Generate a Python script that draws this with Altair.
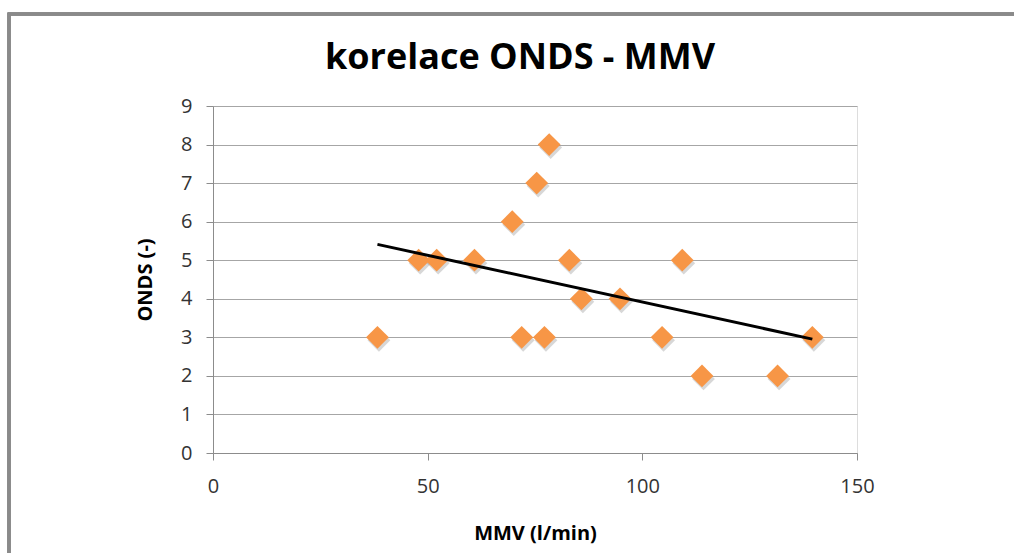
import altair as alt
import pandas as pd

# Data
mmv = [38.3, 47.9, 52.1, 60.9, 69.7, 75.4, 78.3, 71.9, 77.2, 83.0, 85.8, 94.8, 104.6, 109.3, 113.9, 131.5, 139.6]
onds = [3, 5, 5, 5, 6, 7, 8, 3, 3, 5, 4, 4, 3, 5, 2, 2, 3]
x_ticks = [0, 50, 100, 150]
y_ticks = [0, 1, 2, 3, 4, 5, 6, 7, 8, 9]
title_text = ["korelace ONDS - MMV"]

df = pd.DataFrame({"MMV": mmv, "ONDS": onds})
tdf = pd.DataFrame({"t": title_text})

FONT = "Open Sans"
W, H = 644, 347
LEFT, TOP = 213, 106

xscale = alt.Scale(domain=[0, 150], nice=False, zero=False)
yscale = alt.Scale(domain=[0, 9], nice=False)

xaxis = alt.Axis(
    title="MMV (l/min)", values=x_ticks, grid=False, domainColor="#8c8c8c",
    tickColor="#8c8c8c", tickSize=7, labelFontSize=20, labelFont=FONT,
    labelColor="#333333", labelPadding=16, labelFlush=False, titleFont=FONT,
    titleFontSize=20, titleFontWeight="bold", titleColor="#000000", titlePadding=27,
)
yaxis = alt.Axis(
    title="ONDS (-)", values=y_ticks, grid=True, gridColor="#a6a6a6",
    domainColor="#8c8c8c", tickColor="#8c8c8c", tickSize=7, labelFontSize=20,
    labelFont=FONT, labelColor="#333333", labelPadding=14, labelFlush=False,
    titleFont=FONT, titleFontSize=20, titleFontWeight="bold", titleColor="#000000",
    titlePadding=25,
)

base = alt.Chart(df)

border = base.mark_rect(fill=None, stroke="#8a8a8a", strokeWidth=2.5).encode(
    x=alt.value(9 - LEFT), x2=alt.value(1100), y=alt.value(14 - TOP), y2=alt.value(600)
)

shadow = base.mark_point(shape="diamond", filled=True, color="#7a7a7a", opacity=0.3, size=520).encode(
    x=alt.X("MMV:Q", scale=xscale, axis=xaxis),
    y=alt.Y("ONDS:Q", scale=yscale, axis=yaxis),
    xOffset=alt.value(1.5),
    yOffset=alt.value(3),
)

points = base.mark_point(shape="diamond", filled=True, color="#F79646", opacity=1, size=520).encode(
    x=alt.X("MMV:Q", scale=xscale, axis=xaxis),
    y=alt.Y("ONDS:Q", scale=yscale, axis=yaxis),
)

trend = base.transform_regression("MMV", "ONDS").mark_line(color="#000000", strokeWidth=3).encode(
    x=alt.X("MMV:Q", scale=xscale, axis=xaxis),
    y=alt.Y("ONDS:Q", scale=yscale, axis=yaxis),
)

title = alt.Chart(tdf).mark_text(
    font=FONT, fontSize=36, fontWeight="bold", color="#000000",
    align="center", baseline="alphabetic",
).encode(text="t:N", x=alt.value(520 - LEFT), y=alt.value(69 - TOP))

chart = alt.layer(border, shadow, points, trend, title).properties(
    width=W, height=H,
    autosize=alt.AutoSizeParams(type="none"),
    padding={"left": LEFT, "top": TOP, "right": 1014 - LEFT - W, "bottom": 553 - TOP - H},
).configure_view(stroke=None).configure(background="#ffffff")

chart.save("out.html", embed_options={"renderer": "svg", "actions": False})
